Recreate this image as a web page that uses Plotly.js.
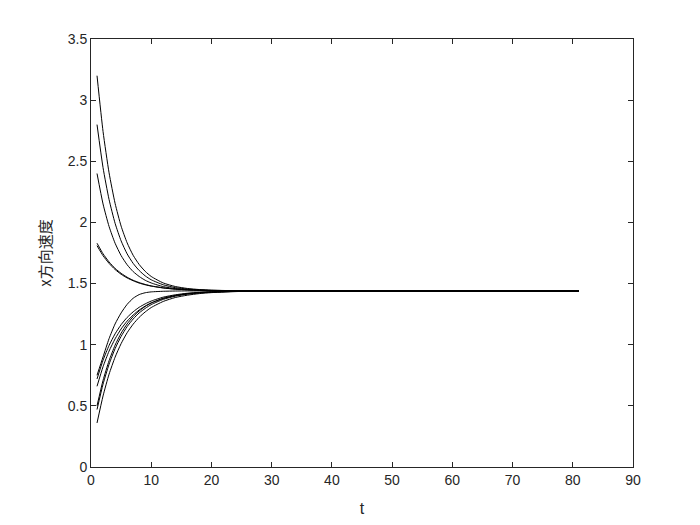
<!DOCTYPE html>
<html>
<head>
<meta charset="utf-8">
<script src="https://cdn.plot.ly/plotly-3.0.1.min.js"></script>
<style>html,body{margin:0;padding:0;background:#fff;}#plot{width:700px;height:525px;}</style>
</head>
<body>
<div id="plot"></div>
<script>
// time samples
var t = [1, 2, 3, 4, 5, 6, 7, 8, 9, 10, 12, 14, 16, 18, 20, 25, 30, 40, 81];

// curves approaching from above
var upperA = [3.20, 2.744, 2.406, 2.156, 1.970, 1.833, 1.731, 1.656, 1.600, 1.558, 1.505, 1.476, 1.460, 1.451, 1.446, 1.441, 1.440, 1.44, 1.44];
var upperB = [2.80, 2.448, 2.187, 1.993, 1.849, 1.743, 1.665, 1.607, 1.563, 1.531, 1.490, 1.467, 1.455, 1.448, 1.445, 1.441, 1.440, 1.44, 1.44];
var upperC = [2.40, 2.151, 1.967, 1.830, 1.729, 1.654, 1.598, 1.558, 1.527, 1.505, 1.475, 1.459, 1.451, 1.446, 1.443, 1.441, 1.440, 1.44, 1.44];
var upperD1 = [1.83, 1.744, 1.677, 1.624, 1.584, 1.552, 1.527, 1.508, 1.493, 1.481, 1.465, 1.455, 1.449, 1.445, 1.443, 1.441, 1.440, 1.44, 1.44];
var upperD2 = [1.81, 1.728, 1.665, 1.615, 1.576, 1.546, 1.523, 1.504, 1.490, 1.479, 1.464, 1.454, 1.449, 1.445, 1.443, 1.441, 1.440, 1.44, 1.44];

// curves approaching from below
var lower1 = [0.75, 0.90, 1.05, 1.17, 1.26, 1.33, 1.38, 1.41, 1.425, 1.432, 1.437, 1.439, 1.44, 1.44, 1.44, 1.44, 1.44, 1.44, 1.44];
var lower2 = [0.72, 0.873, 0.994, 1.089, 1.164, 1.223, 1.269, 1.306, 1.334, 1.357, 1.389, 1.408, 1.421, 1.428, 1.433, 1.438, 1.439, 1.44, 1.44];
var lower3 = [0.66, 0.820, 0.948, 1.048, 1.129, 1.193, 1.243, 1.284, 1.316, 1.342, 1.378, 1.401, 1.415, 1.424, 1.430, 1.437, 1.439, 1.44, 1.44];
var lower4 = [0.50, 0.708, 0.869, 0.996, 1.094, 1.170, 1.230, 1.276, 1.313, 1.341, 1.380, 1.403, 1.418, 1.427, 1.432, 1.438, 1.439, 1.44, 1.44];
var lower5 = [0.47, 0.677, 0.840, 0.968, 1.068, 1.148, 1.210, 1.260, 1.297, 1.328, 1.371, 1.397, 1.414, 1.424, 1.430, 1.437, 1.439, 1.44, 1.44];
var lower6 = [0.36, 0.581, 0.759, 0.898, 1.009, 1.098, 1.168, 1.224, 1.268, 1.304, 1.354, 1.386, 1.405, 1.418, 1.426, 1.436, 1.439, 1.44, 1.44];

var xTitle = 't';
var yTitle = 'x方向速度';

var series = [upperA, upperB, upperC, upperD1, upperD2, lower1, lower2, lower3, lower4, lower5, lower6];
var traces = series.map(function (ys) {
  return {x: t, y: ys, type: 'scatter', mode: 'lines', line: {color: '#000000', width: 1, shape: 'spline', smoothing: 0.6}, hoverinfo: 'none', showlegend: false};
});

var axisCommon = {
  showgrid: false, zeroline: false, showline: true, mirror: 'ticks',
  linecolor: '#262626', linewidth: 1,
  ticks: 'inside', ticklen: 5, tickcolor: '#262626', tickwidth: 1,
  tickfont: {family: 'Liberation Sans, Arial, sans-serif', size: 14, color: '#262626'}
};

var layout = {
  width: 700, height: 525,
  margin: {l: 91, r: 67, t: 39, b: 58},
  paper_bgcolor: '#ffffff', plot_bgcolor: '#ffffff',
  xaxis: Object.assign({}, axisCommon, {
    range: [0, 90], tickmode: 'linear', tick0: 0, dtick: 10,
    title: {text: xTitle, font: {family: 'Liberation Sans, Arial, sans-serif', size: 16, color: '#262626'}, standoff: 16}
  }),
  yaxis: Object.assign({}, axisCommon, {
    range: [0, 3.5], tickmode: 'linear', tick0: 0, dtick: 0.5,
    title: {text: yTitle, font: {family: 'Noto Sans CJK SC, sans-serif', size: 15, color: '#262626'}, standoff: 12}
  })
};

Plotly.newPlot('plot', traces, layout, {displayModeBar: false, staticPlot: true});
</script>
</body>
</html>
